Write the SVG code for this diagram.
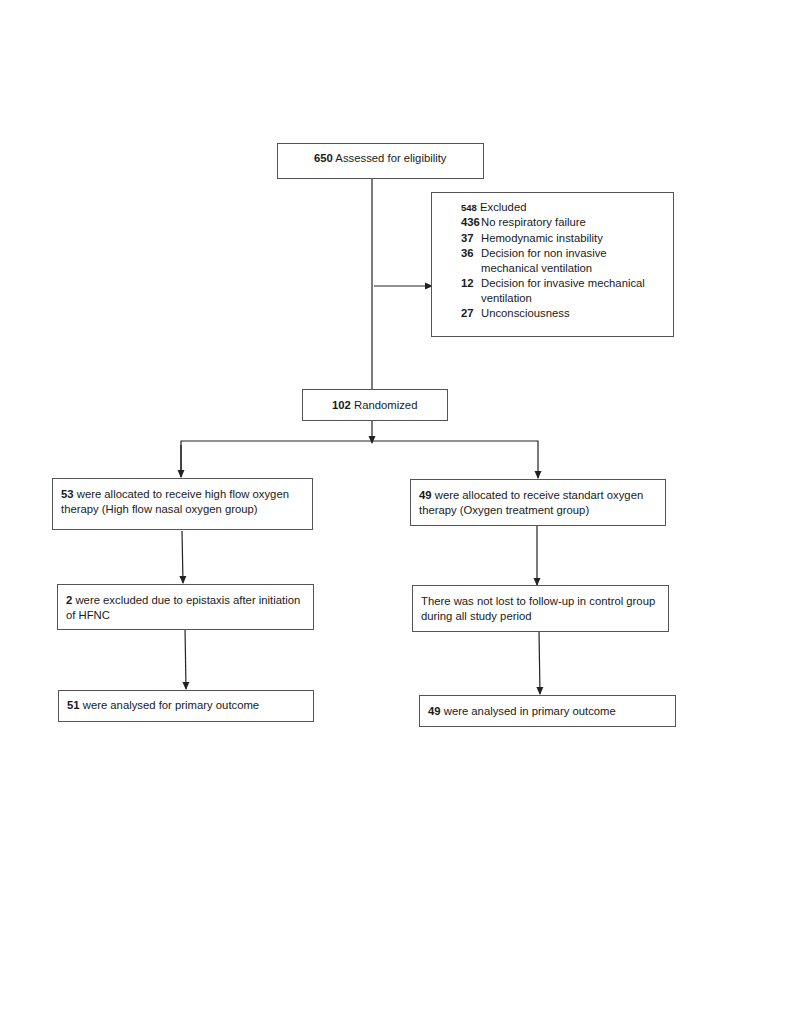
<svg xmlns="http://www.w3.org/2000/svg" width="792" height="1024" viewBox="0 0 792 1024">
<style>
.box{fill:#fff;stroke:#555;stroke-width:1}
text{font-family:"Liberation Sans",Arial,sans-serif;font-size:11.3px;fill:#1a1a1a}
.b{font-weight:bold}
.ln{stroke:#222;stroke-width:1.2;fill:none}
</style>
<defs>
<marker id="ah" markerWidth="8" markerHeight="8" refX="7" refY="4" orient="auto" markerUnits="userSpaceOnUse">
<path d="M0,0.5 L8,4 L0,7.5 Z" fill="#222"/>
</marker>
</defs>
<rect width="792" height="1024" fill="#fff"/>
<g id="connectors">
<line class="ln" x1="372" y1="176" x2="372" y2="389"/>
<line class="ln" x1="374" y1="286" x2="432" y2="286" marker-end="url(#ah)"/>
<line class="ln" x1="372" y1="420" x2="372" y2="443" marker-end="url(#ah)"/>
<polyline class="ln" points="181,477 181,441 538,441 538,478" marker-end="url(#ah)"/>
<line class="ln" x1="181" y1="445" x2="181" y2="477" marker-end="url(#ah)"/>
<line class="ln" x1="182" y1="531" x2="183" y2="583" marker-end="url(#ah)"/>
<line class="ln" x1="185" y1="627" x2="186" y2="689" marker-end="url(#ah)"/>
<line class="ln" x1="537" y1="525" x2="537" y2="585" marker-end="url(#ah)"/>
<line class="ln" x1="539" y1="631" x2="540" y2="694" marker-end="url(#ah)"/>
</g>
<g id="assessed">
<rect class="box" x="277.5" y="143.5" width="206" height="35"/>
<text x="314" y="162"><tspan class="b">650</tspan> Assessed for eligibility</text>
</g>
<g id="excluded">
<rect class="box" x="431.5" y="192.5" width="242" height="144"/>
<text x="461" y="211"><tspan class="b" style="font-size:9.5px">548</tspan> Excluded</text>
<text x="461" y="226" class="b">436</text><text x="481" y="226">No respiratory failure</text>
<text x="461" y="242" class="b">37</text><text x="481" y="242">Hemodynamic instability</text>
<text x="461" y="257" class="b">36</text><text x="481" y="257">Decision for non invasive</text>
<text x="481" y="272">mechanical ventilation</text>
<text x="461" y="287" class="b">12</text><text x="481" y="287">Decision for invasive mechanical</text>
<text x="481" y="302">ventilation</text>
<text x="461" y="317" class="b">27</text><text x="481" y="317">Unconsciousness</text>
</g>
<g id="randomized">
<rect class="box" x="302.5" y="389.5" width="145" height="31"/>
<text x="332" y="409"><tspan class="b">102</tspan> Randomized</text>
</g>
<g id="hfno">
<rect class="box" x="52.5" y="478.5" width="260" height="51"/>
<text x="61" y="498"><tspan class="b">53</tspan> were allocated to receive high flow oxygen</text>
<text x="61" y="513">therapy (High flow nasal oxygen group)</text>
</g>
<g id="oxygen">
<rect class="box" x="410.5" y="479.5" width="255" height="46"/>
<text x="419" y="499"><tspan class="b">49</tspan> were allocated to receive standart oxygen</text>
<text x="419" y="514">therapy (Oxygen treatment group)</text>
</g>
<g id="hfno-excl">
<rect class="box" x="57.5" y="584.5" width="256" height="45"/>
<text x="66" y="604"><tspan class="b">2</tspan> were excluded due to epistaxis after initiation</text>
<text x="66" y="619">of HFNC</text>
</g>
<g id="oxygen-lost">
<rect class="box" x="412.5" y="585.5" width="256" height="46"/>
<text x="421" y="605">There was not lost to follow-up in control group</text>
<text x="421" y="620">during all study period</text>
</g>
<g id="hfno-analysed">
<rect class="box" x="58.5" y="690.5" width="255" height="31"/>
<text x="67" y="709"><tspan class="b">51</tspan> were analysed for primary outcome</text>
</g>
<g id="oxygen-analysed">
<rect class="box" x="419.5" y="695.5" width="256" height="31"/>
<text x="428" y="715"><tspan class="b">49</tspan> were analysed in primary outcome</text>
</g>
</svg>
